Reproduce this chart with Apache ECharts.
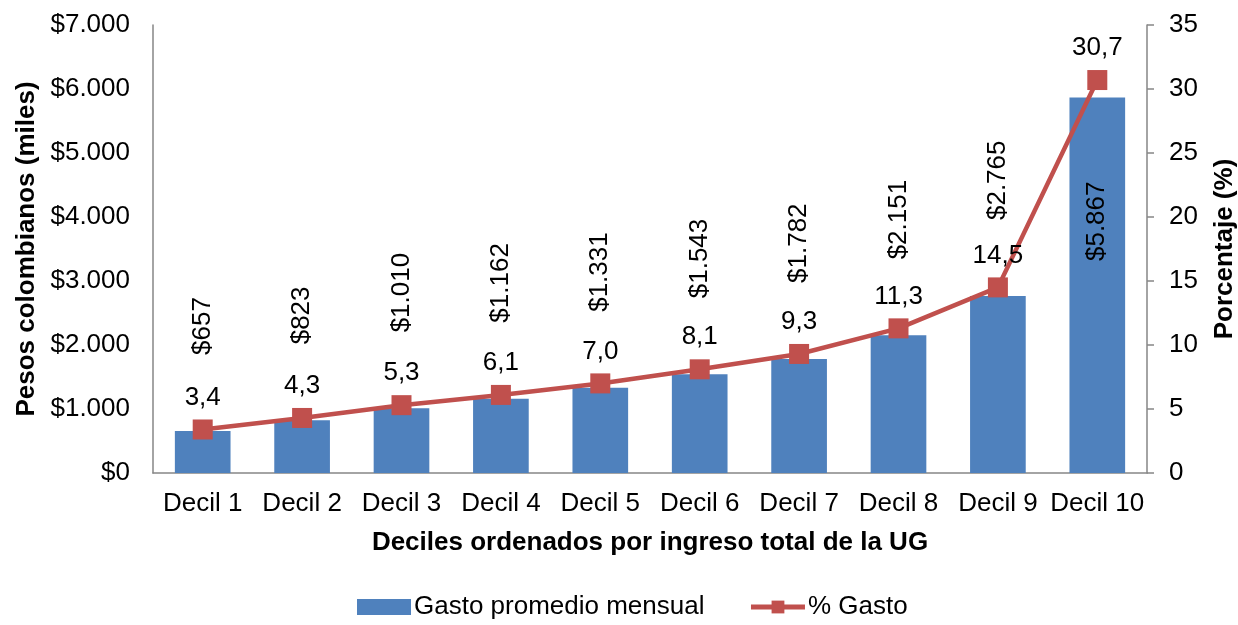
<!DOCTYPE html>
<html>
<head>
<meta charset="utf-8">
<script src="https://cdn.jsdelivr.net/npm/echarts@6/dist/echarts.min.js"></script>
<style>
  html, body { margin: 0; padding: 0; background: #fff; }
  #chart { width: 1238px; height: 625px; }
</style>
</head>
<body>
<div id="chart"></div>
<script>
const deciles = ['Decil 1', 'Decil 2', 'Decil 3', 'Decil 4', 'Decil 5', 'Decil 6', 'Decil 7', 'Decil 8', 'Decil 9', 'Decil 10']
const gasto = [657, 823, 1010, 1162, 1331, 1543, 1782, 2151, 2765, 5867]
const pctGasto = [3.4, 4.3, 5.3, 6.1, 7.0, 8.1, 9.3, 11.3, 14.5, 30.7]

const font = 'Liberation Sans, Arial, sans-serif'
const pesos = v => '$' + String(v).replace(/\B(?=(\d{3})+(?!\d))/g, '.')
const coma = v => v.toFixed(1).replace('.', ',')

let myChart = echarts.init(document.getElementById('chart'))

// last bar carries its label inside
const barData = gasto.map((v, i) => i === gasto.length - 1
  ? { value: v, label: { position: 'insideTop', align: 'right', distance: 84 } }
  : v)

const titleStyle = { fontSize: 26, fontWeight: 'bold', fontFamily: font, color: '#000' }

let option = {
  animation: false,
  textStyle: { fontFamily: font, color: '#000' },
  grid: { left: 153, right: 91, top: 25, bottom: 152, outerBoundsMode: 'none', containLabel: false },
  legend: {
    bottom: 0,
    left: 352,
    itemGap: 44,
    itemWidth: 54,
    itemHeight: 16,
    lineStyle: { width: 5 },
    textStyle: { fontSize: 26, fontFamily: font, color: '#000', padding: [0, 0, 0, -2] },
    data: [
      { name: 'Gasto promedio mensual', icon: 'rect' },
      { name: '% Gasto' }
    ]
  },
  xAxis: {
    type: 'category',
    data: deciles,
    name: 'Deciles ordenados por ingreso total de la UG',
    nameLocation: 'middle',
    nameGap: 57,
    nameTextStyle: titleStyle,
    axisLine: { lineStyle: { color: '#868686', width: 1.5 } },
    axisTick: { show: false },
    axisLabel: { fontSize: 26, margin: 18, color: '#000', interval: 0 }
  },
  yAxis: [
    {
      type: 'value',
      min: 0, max: 7000, interval: 1000,
      name: 'Pesos colombianos (miles)',
      nameLocation: 'middle',
      nameGap: 113,
      nameTextStyle: titleStyle,
      axisLine: { show: true, lineStyle: { color: '#868686', width: 1.5 } },
      axisTick: { show: false },
      splitLine: { show: false },
      axisLabel: { fontSize: 26, margin: 23, color: '#000', formatter: pesos }
    },
    {
      type: 'value',
      min: 0, max: 35, interval: 5,
      name: 'Porcentaje (%)',
      nameLocation: 'middle',
      nameGap: 65,
      nameRotate: 90,
      nameTextStyle: titleStyle,
      axisLine: { show: true, lineStyle: { color: '#868686', width: 1.5 } },
      axisTick: { show: true, length: 7, lineStyle: { color: '#868686', width: 1.5 } },
      splitLine: { show: false },
      axisLabel: { fontSize: 26, margin: 22, color: '#000' }
    }
  ],
  series: [
    {
      name: 'Gasto promedio mensual',
      type: 'bar',
      data: barData,
      barWidth: '56%',
      itemStyle: { color: '#4F81BD' },
      label: {
        show: true,
        position: 'top',
        rotate: 90,
        align: 'left',
        verticalAlign: 'middle',
        distance: 76,
        fontSize: 26,
        color: '#000',
        fontFamily: font,
        formatter: p => pesos(p.value)
      }
    },
    {
      name: '% Gasto',
      type: 'line',
      yAxisIndex: 1,
      data: pctGasto,
      symbol: 'rect',
      symbolSize: 20,
      lineStyle: { color: '#C0504D', width: 4.5 },
      itemStyle: { color: '#C0504D' },
      label: {
        show: true,
        position: 'top',
        distance: 9,
        fontSize: 26,
        color: '#000',
        fontFamily: font,
        formatter: p => coma(p.value)
      }
    }
  ]
}

option && myChart.setOption(option)
</script>
</body>
</html>
